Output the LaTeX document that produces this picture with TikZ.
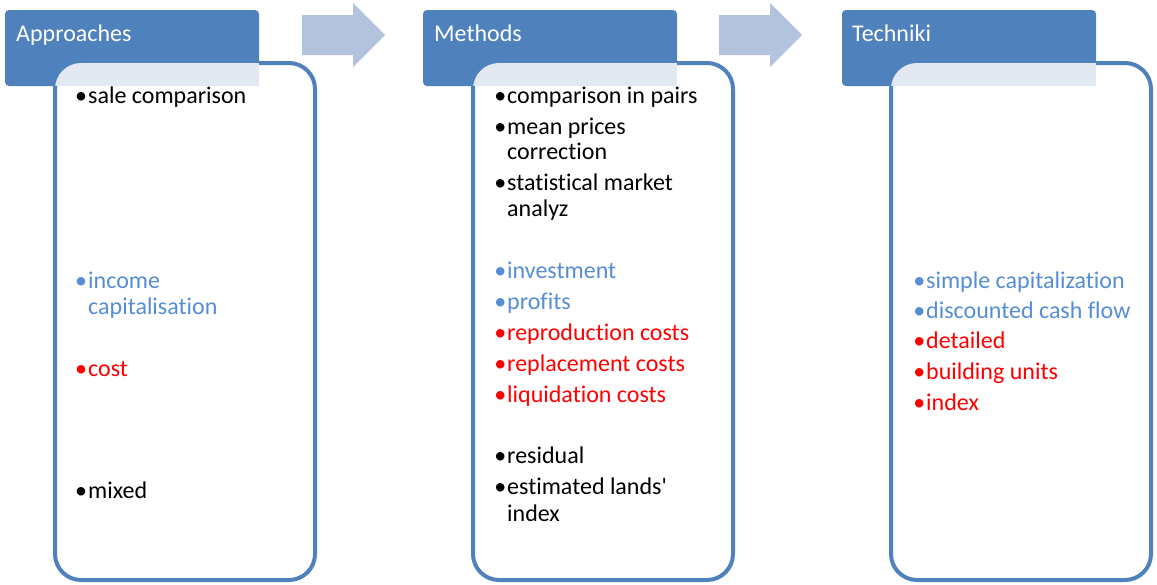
\documentclass[tikz,border=0pt]{standalone}
\usepackage{fontspec}
\setmainfont{Carlito}[Ligatures=NoCommon]

\definecolor{hdrblue}{HTML}{4F81BD}
\definecolor{flowblue}{HTML}{B3C3DE}
\definecolor{txtblue}{HTML}{558ED5}
\definecolor{txtred}{HTML}{FF0000}
\definecolor{seamtint}{HTML}{E2E9F3}

% one bulleted line of a list, and a continuation line of the same item
\newcommand\bulletline[5]{\node[entry,text=#4] (#1) at (#2,#3) {\llap{•\hspace{1pt}}#5};}
\newcommand\moreline[5]{\node[entry,text=#4] (#1) at (#2,#3) {#5};}

\begin{document}
\begin{tikzpicture}[x=1pt,y=-1pt,
  header/.style={fill=hdrblue, rounded corners=4pt, inner sep=0pt, outer sep=0pt,
                 minimum width=254pt, minimum height=76pt, anchor=north west},
  panel/.style={draw=hdrblue, line width=4pt, fill=white, rounded corners=26pt,
                inner sep=0pt, outer sep=0pt,
                minimum width=260pt, minimum height=517pt, anchor=north west},
  flow/.style={fill=flowblue},
  title/.style={anchor=base west, inner sep=0pt, text=white, font=\fontsize{24}{25}\selectfont},
  entry/.style={anchor=base west, inner sep=0pt, font=\fontsize{24}{25}\selectfont},
]
\useasboundingbox (0,0) rectangle (1157,584);

% step arrows between the columns
\fill[flow] (302,15) -- (353,15) -- (353,3) -- (385,35) -- (353,67) -- (353,55) -- (302,55) -- cycle;
\fill[flow] (719,15) -- (770,15) -- (770,3) -- (802,35) -- (770,67) -- (770,55) -- (719,55) -- cycle;

% column headers
\node[header] (h1) at (5,10) {};
\node[header] (h2) at (423,10) {};
\node[header] (h3) at (842,10) {};

% list panels, overlapping the lower part of each header
\node[panel] (p1) at (55,63) {};
\node[panel] (p2) at (473,63) {};
\node[panel] (p3) at (891,63) {};

% tinted strip where a panel covers its header
\foreach \p/\h in {p1/h1, p2/h2, p3/h3}{
  \begin{scope}
    \clip[rounded corners=26pt] (\p.north west) rectangle (\p.south east);
    \fill[seamtint] (\p.north west) rectangle (\h.south east);
  \end{scope}
}

% header titles
\node[title] (t1) at (16,41) {Approaches};
\node[title] (t2) at (434,41) {Methods};
\node[title] (t3) at (852,41) {Techniki};

% approaches
\bulletline{a1}{88}{103}{black}{sale comparison}
\bulletline{a2}{88}{288.5}{txtblue}{income}
\moreline{a2b}{88}{314}{txtblue}{capitalisation}
\bulletline{a3}{88}{376}{txtred}{cost}
\bulletline{a4}{88}{498}{black}{mixed}

% methods
\bulletline{m1}{507}{103}{black}{comparison in pairs}
\bulletline{m2}{507}{134}{black}{mean prices}
\moreline{m2b}{507}{159.5}{black}{correction}
\bulletline{m3}{507}{190.5}{black}{statistical market}
\moreline{m3b}{507}{216}{black}{analyz}
\bulletline{m4}{507}{278.5}{txtblue}{investment}
\bulletline{m5}{507}{309}{txtblue}{profits}
\bulletline{m6}{507}{340}{txtred}{reproduction costs}
\bulletline{m7}{507}{371}{txtred}{replacement costs}
\bulletline{m8}{507}{402}{txtred}{liquidation costs}
\bulletline{m9}{507}{463.5}{black}{residual}
\bulletline{m10}{507}{494.5}{black}{estimated lands\textquotesingle}
\moreline{m10b}{507}{521}{black}{index}

% techniques
\bulletline{k1}{926}{288}{txtblue}{simple capitalization}
\bulletline{k2}{926}{318}{txtblue}{discounted cash flow}
\bulletline{k3}{926}{348.5}{txtred}{detailed}
\bulletline{k4}{926}{379.5}{txtred}{building units}
\bulletline{k5}{926}{410}{txtred}{index}
\end{tikzpicture}
\end{document}
